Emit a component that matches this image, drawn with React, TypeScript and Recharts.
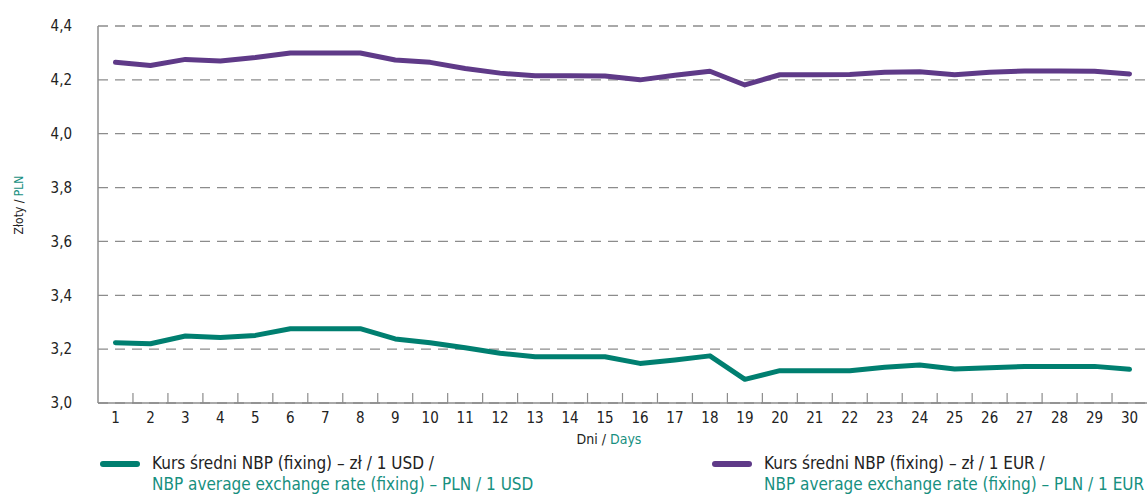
import React from "react";
import { LineChart, Line, XAxis, YAxis, CartesianGrid, Label } from "recharts";

const days = [
  1, 2, 3, 4, 5, 6, 7, 8, 9, 10, 11, 12, 13, 14, 15,
  16, 17, 18, 19, 20, 21, 22, 23, 24, 25, 26, 27, 28, 29, 30,
];
const usdRates = [
  3.224, 3.22, 3.249, 3.243, 3.251, 3.276, 3.276, 3.276, 3.238, 3.224,
  3.205, 3.185, 3.172, 3.172, 3.172, 3.147, 3.16, 3.175, 3.088, 3.12,
  3.12, 3.12, 3.133, 3.141, 3.126, 3.131, 3.136, 3.136, 3.136, 3.125,
];
const eurRates = [
  4.265, 4.253, 4.276, 4.27, 4.283, 4.3, 4.3, 4.3, 4.274, 4.265,
  4.242, 4.225, 4.215, 4.215, 4.214, 4.2, 4.217, 4.232, 4.181, 4.219,
  4.219, 4.22, 4.228, 4.23, 4.219, 4.228, 4.233, 4.233, 4.232, 4.222,
];
const yTicks = [3.0, 3.2, 3.4, 3.6, 3.8, 4.0, 4.2, 4.4];

const data = days.map((d, i) => ({ day: d, usd: usdRates[i], eur: eurRates[i] }));

const FONT = '"DejaVu Sans Condensed", "DejaVu Sans", sans-serif';
const GREEN = "#007f70";
const PURPLE = "#5f3a88";
const TEAL_TEXT = "#17907f";
const DARK = "#222";
const AXIS_GREY = "#8c8c8c";

const PLOT_WIDTH = 1049;
const BAND = PLOT_WIDTH / days.length;

function DayTick(props: any) {
  const { x, y, payload, index } = props;
  return (
    <g>
      {index < days.length - 1 && (
        <line x1={x + BAND / 2} x2={x + BAND / 2} y1={y} y2={y - 10} stroke={AXIS_GREY} strokeWidth={1.2} />
      )}
      <text x={x} y={y + 20} textAnchor="middle" fontFamily={FONT} fontSize={15} fill={DARK}>
        {payload.value}
      </text>
    </g>
  );
}

function YLabel() {
  const cx = 19;
  const cy = 205;
  return (
    <text
      x={cx}
      y={cy}
      transform={`rotate(-90 ${cx} ${cy})`}
      textAnchor="middle"
      fontFamily={FONT}
      fontSize={12}
      dominantBaseline="central"
    >
      <tspan fill={DARK}>Złoty / </tspan>
      <tspan fill={TEAL_TEXT}>PLN</tspan>
    </text>
  );
}

function XLabel() {
  return (
    <text x={609} y={444} textAnchor="middle" fontFamily={FONT} fontSize={14}>
      <tspan fill={DARK}>Dni / </tspan>
      <tspan fill={TEAL_TEXT}>Days</tspan>
    </text>
  );
}

function LegendItem({ color, left, line1, line2 }: { color: string; left: number; line1: string; line2: string }) {
  return (
    <div style={{ position: "absolute", left, top: 453, fontFamily: FONT, fontSize: 17, lineHeight: "21px" }}>
      <div style={{ position: "absolute", left: 0, top: 8, width: 40, height: 6, borderRadius: 3, background: color }} />
      <div style={{ marginLeft: 52, whiteSpace: "nowrap" }}>
        <div style={{ color: DARK }}>{line1}</div>
        <div style={{ color: TEAL_TEXT }}>{line2}</div>
      </div>
    </div>
  );
}

export default function App() {
  return (
    <div style={{ position: "absolute", left: 0, top: 0, width: 1147, height: 496, background: "#fff", overflow: "hidden" }}>
      <LineChart
        width={1147}
        height={496}
        data={data}
        margin={{ top: 26, right: 0, bottom: 63, left: 0 }}
      >
        <CartesianGrid horizontal vertical={false} stroke={AXIS_GREY} strokeDasharray="10 7" strokeWidth={1.3} />
        <XAxis
          dataKey="day"
          height={30}
          padding={{ left: BAND / 2, right: BAND / 2 }}
          tickLine={false}
          tickSize={0}
          tickMargin={0}
          interval={0}
          axisLine={{ stroke: AXIS_GREY, strokeWidth: 1.5 }}
          tick={<DayTick />}
        >
          <Label content={<XLabel />} />
        </XAxis>
        <YAxis
          width={98}
          domain={[3.0, 4.4]}
          ticks={yTicks}
          interval={0}
          tickLine={false}
          tickSize={0}
          tickMargin={26}
          axisLine={{ stroke: AXIS_GREY, strokeWidth: 1.5 }}
          tickFormatter={(v: number) => v.toFixed(1).replace(".", ",")}
          tick={{ fontFamily: FONT, fontSize: 15, fill: DARK }}
        >
          <Label content={<YLabel />} />
        </YAxis>
        <Line
          type="linear"
          dataKey="eur"
          stroke={PURPLE}
          strokeWidth={5}
          dot={false}
          strokeLinecap="round"
          strokeLinejoin="round"
          isAnimationActive={false}
        />
        <Line
          type="linear"
          dataKey="usd"
          stroke={GREEN}
          strokeWidth={5}
          dot={false}
          strokeLinecap="round"
          strokeLinejoin="round"
          isAnimationActive={false}
        />
      </LineChart>
      <LegendItem
        color={GREEN}
        left={100}
        line1="Kurs średni NBP (fixing) – zł / 1 USD /"
        line2="NBP average exchange rate (fixing) – PLN / 1 USD"
      />
      <LegendItem
        color={PURPLE}
        left={712}
        line1="Kurs średni NBP (fixing) – zł / 1 EUR /"
        line2="NBP average exchange rate (fixing) – PLN / 1 EUR"
      />
    </div>
  );
}
